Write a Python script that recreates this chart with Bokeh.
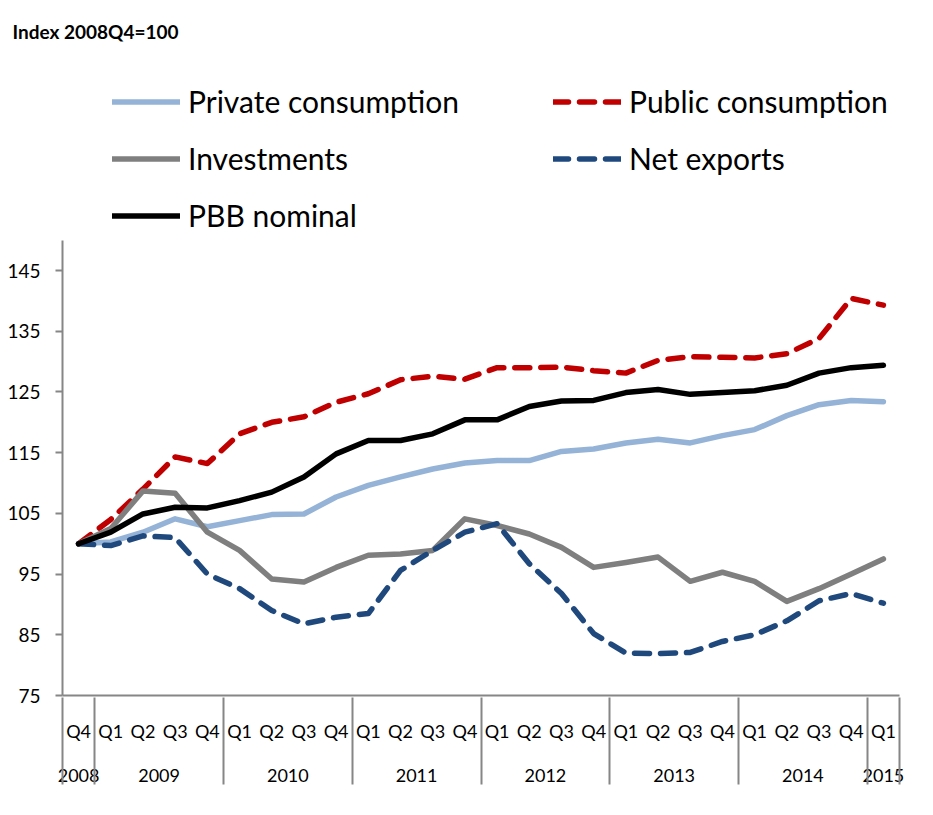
from bokeh.plotting import figure
from bokeh.models import (FactorRange, Range1d, Legend, LegendItem, FixedTicker,
                          LinearAxis, Title)
from bokeh.embed import file_html
from bokeh.resources import INLINE

# ---- data -------------------------------------------------------------
years = ["2008"] + ["2009"] * 4 + ["2010"] * 4 + ["2011"] * 4 + ["2012"] * 4 + \
        ["2013"] * 4 + ["2014"] * 4 + ["2015"]
quarters = ["Q4"] + ["Q1", "Q2", "Q3", "Q4"] * 6 + ["Q1"]

private_consumption = [100.0, 100.3, 101.9, 104.1, 102.8, 103.8, 104.8, 104.9, 107.7,
                       109.6, 111.0, 112.3, 113.3, 113.7, 113.7, 115.2, 115.6, 116.6,
                       117.2, 116.6, 117.8, 118.8, 121.1, 122.9, 123.6, 123.4]
public_consumption = [100.0, 104.0, 109.0, 114.3, 113.2, 118.1, 120.0, 120.9, 123.3,
                      124.7, 127.0, 127.6, 127.1, 129.0, 129.0, 129.1, 128.5, 128.1,
                      130.2, 130.8, 130.7, 130.6, 131.3, 133.8, 140.4, 139.3]
investments = [100.0, 102.5, 108.7, 108.3, 101.9, 98.9, 94.2, 93.7, 96.1, 98.1, 98.3,
               98.9, 104.1, 103.0, 101.6, 99.4, 96.1, 96.9, 97.8, 93.8, 95.3, 93.8,
               90.5, 92.6, 95.0, 97.5]
net_exports = [100.0, 99.7, 101.3, 101.0, 95.0, 92.6, 89.0, 86.8, 87.9, 88.5, 95.6,
               98.9, 101.9, 103.3, 96.7, 91.8, 85.2, 82.0, 81.9, 82.1, 83.9, 85.0,
               87.3, 90.6, 91.8, 90.2]
pbb_nominal = [100.0, 101.9, 104.9, 106.0, 105.9, 107.1, 108.5, 111.0, 114.8, 117.0,
               117.0, 118.1, 120.4, 120.4, 122.6, 123.5, 123.6, 124.9, 125.4, 124.6,
               124.9, 125.2, 126.1, 128.1, 129.0, 129.4]

y_ticks = [75, 85, 95, 105, 115, 125, 135, 145]
title_text = "Index 2008Q4=100"

# ---- figure -----------------------------------------------------------
FONT = "Lato"
AXIS_GREY = "#868686"
Y_MIN, Y_AXIS_TOP, Y_VIEW_TOP = 75, 150, 181.24   # upper part of the frame holds the legend

factors = list(zip(years, quarters))
x_range = FactorRange(*factors, group_padding=0, factor_padding=0, range_padding=0)

p = figure(width=933, height=815, x_range=x_range, y_range=Range1d(Y_MIN, Y_VIEW_TOP),
           output_backend="svg", toolbar_location=None,
           min_border_left=62, min_border_right=34, min_border_top=50,
           min_border_bottom=120)
p.outline_line_color = None
p.xgrid.visible = False
p.ygrid.visible = False
p.background_fill_color = "white"
p.border_fill_color = "white"

series = {
    "Private consumption": (private_consumption, "#95B3D7", None),
    "Public consumption": (public_consumption, "#C00000", "15 11"),
    "Investments": (investments, "#7F7F7F", None),
    "Net exports": (net_exports, "#1F497D", "15 11"),
    "PBB nominal": (pbb_nominal, "#000000", None),
}
renderers = {}
for name, (vals, color, dash) in series.items():
    kw = dict(line_color=color, line_width=5.5, line_cap="round", line_join="round")
    if dash:
        kw["line_dash"] = dash
    renderers[name] = p.line(factors, vals, **kw)

# legend columns are filled top-to-bottom: left column first, then right column
legend_order = ["Private consumption", "Investments", "PBB nominal",
                "Public consumption", "Net exports"]
items = [LegendItem(label=n, renderers=[renderers[n]]) for n in legend_order]

legend = Legend(items=items, location=(50, 451.5), ncols=2,
                label_text_font=FONT, label_text_font_size="30px",
                label_text_color="#000000",
                glyph_width=68, glyph_height=57, label_height=57, label_width=365,
                label_standoff=8, spacing=0, padding=0, margin=0,
                border_line_color=None, background_fill_alpha=0)
p.add_layout(legend)

p.title.visible = False
p.add_layout(Title(text=title_text, align="left", offset=-50, standoff=16,
                   text_font=FONT, text_font_size="19px", text_font_style="bold",
                   text_color="#000000"), "above")

# y axis
p.yaxis.bounds = (Y_MIN, Y_AXIS_TOP)
p.yaxis.ticker = FixedTicker(ticks=y_ticks)
p.yaxis.axis_line_color = AXIS_GREY
p.yaxis.axis_line_width = 2
p.yaxis.major_tick_line_color = AXIS_GREY
p.yaxis.major_tick_line_width = 2
p.yaxis.major_tick_in = 0
p.yaxis.major_tick_out = 7
p.yaxis.minor_tick_line_color = None
p.yaxis.major_label_text_font = FONT
p.yaxis.major_label_text_font_size = "19px"
p.yaxis.major_label_text_color = "#000000"
p.yaxis.major_label_standoff = 15

# x axis (nested quarters / years)
p.xaxis.axis_line_color = AXIS_GREY
p.xaxis.axis_line_width = 2
p.xaxis.major_tick_line_color = None
p.xaxis.major_tick_out = 0
p.xaxis.major_tick_in = 0
p.xaxis.major_label_text_font = FONT
p.xaxis.major_label_text_font_size = "18px"
p.xaxis.major_label_text_color = "#000000"
p.xaxis.group_text_font = FONT
p.xaxis.group_text_font_size = "18px"
p.xaxis.group_text_color = "#000000"
p.xaxis.group_text_font_style = "normal"
p.xaxis.separator_line_color = None
p.xaxis.major_label_standoff = 24

# year separators (both ends included): long inward ticks of an outer, label-less axis
# placed at the boundaries between year groups (synthetic positions of the factor range)
n = len(years)
year_bounds = [0] + [i for i in range(1, n) if years[i] != years[i - 1]] + [n]
sep_axis = LinearAxis(ticker=FixedTicker(ticks=year_bounds),
                      axis_line_color=None, major_tick_line_color=AXIS_GREY,
                      major_tick_line_width=2, major_tick_in=87, major_tick_out=0,
                      minor_tick_line_color=None, major_label_text_font_size="10px",
                      major_label_overrides={b: "" for b in year_bounds},
                      major_label_standoff=0)
p.add_layout(sep_axis, "below")

open("out.html", "w").write(file_html(p, INLINE))
